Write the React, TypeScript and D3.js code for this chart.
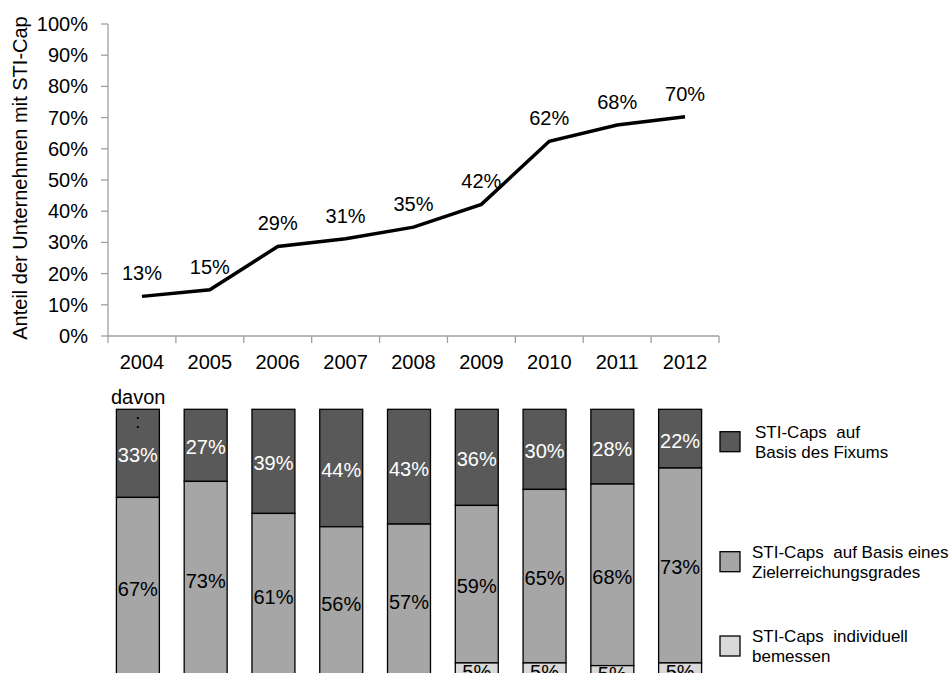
import React from "react";
import * as d3 from "d3";

const years = ["2004", "2005", "2006", "2007", "2008", "2009", "2010", "2011", "2012"];
const lineValues = [12.7, 14.8, 28.7, 31.2, 34.9, 42.2, 62.4, 67.6, 70.3];
const lineLabels = ["13%", "15%", "29%", "31%", "35%", "42%", "62%", "68%", "70%"];
const yTicks = [0, 10, 20, 30, 40, 50, 60, 70, 80, 90, 100];

const fixum = [33, 27, 39, 44, 43, 36, 30, 28, 22];
const ziel = [67, 73, 61, 56, 57, 59, 65, 68, 73];
const indiv = [0, 0, 0, 0, 0, 5, 5, 5, 5];

const seriesNames = [
  ["STI-Caps  auf", "Basis des Fixums"],
  ["STI-Caps  auf Basis eines", "Zielerreichungsgrades"],
  ["STI-Caps  individuell", "bemessen"],
];
const seriesColors = ["#595959", "#a6a6a6", "#d9d9d9"];
const labelColors = ["#ffffff", "#000000", "#000000"];

const FONT = "'Liberation Sans', Arial, sans-serif";

export default function App() {
  const x = d3.scaleBand<string>().domain(years).range([108, 719]).padding(0);
  const y = d3.scaleLinear().domain([0, 100]).range([336, 24]);
  const line = d3
    .line<number>()
    .x((_, i) => (x(years[i]) as number) + x.bandwidth() / 2)
    .y((v) => y(v));

  const xb = d3
    .scaleBand<string>()
    .domain(years)
    .range([104, 714])
    .paddingInner(0.366)
    .paddingOuter(0.183);
  const yb = d3.scaleLinear().domain([0, 100]).range([409.3, 676.3]);

  const stackData = years.map((yr, i) => ({ yr, fixum: fixum[i], ziel: ziel[i], indiv: indiv[i] }));
  const stack = d3.stack<any>().keys(["fixum", "ziel", "indiv"])(stackData);

  const axisColor = "#a0a0a0";

  return (
    <svg
      width={949}
      height={673}
      style={{ position: "absolute", left: 0, top: 0, background: "#fff" }}
      fontFamily={FONT}
    >
      {/* Y axis title */}
      <text
        transform={`translate(27,178) rotate(-90)`}
        textAnchor="middle"
        fontSize={20}
        fill="#000"
      >
        Anteil der Unternehmen mit STI-Cap
      </text>
      {/* Y axis */}
      <line x1={108} x2={108} y1={y(100)} y2={y(0)} stroke={axisColor} strokeWidth={1.3} />
      {yTicks.map((t) => (
        <g key={t}>
          <line x1={101} x2={108} y1={y(t)} y2={y(t)} stroke={axisColor} strokeWidth={1.3} />
          <text x={88} y={y(t)} dy="0.35em" textAnchor="end" fontSize={20}>
            {t}%
          </text>
        </g>
      ))}
      {/* X axis */}
      <line x1={x.range()[0]} x2={x.range()[1]} y1={y(0)} y2={y(0)} stroke={axisColor} strokeWidth={1.3} />
      {years.map((yr) => (
        <line
          key={"t" + yr}
          x1={x(yr) as number}
          x2={x(yr) as number}
          y1={y(0)}
          y2={y(0) + 7}
          stroke={axisColor}
          strokeWidth={1.3}
        />
      ))}
      <line x1={719} x2={719} y1={y(0)} y2={y(0) + 7} stroke={axisColor} strokeWidth={1.3} />
      {years.map((yr) => (
        <text
          key={"l" + yr}
          x={(x(yr) as number) + x.bandwidth() / 2}
          y={362}
          dy="0.35em"
          textAnchor="middle"
          fontSize={20}
        >
          {yr}
        </text>
      ))}
      {/* Line */}
      <path d={line(lineValues) || ""} fill="none" stroke="#000" strokeWidth={3.5} strokeLinejoin="miter" />
      {lineValues.map((v, i) => (
        <text
          key={"v" + i}
          x={(x(years[i]) as number) + x.bandwidth() / 2}
          y={y(v) - 23}
          dy="0.35em"
          textAnchor="middle"
          fontSize={20}
        >
          {lineLabels[i]}
        </text>
      ))}

      {/* Bottom stacked bars */}
      <text x={111} y={397} dy="0.35em" fontSize={20}>
        davon
      </text>
      {stack.map((s, si) =>
        s.map((d, i) => {
          const v = d[1] - d[0];
          if (v <= 0) return null;
          const yr = years[i];
          const top = yb(d[0]);
          const bot = yb(d[1]);
          return (
            <g key={si + "-" + i}>
              <rect
                x={xb(yr) as number}
                y={top}
                width={xb.bandwidth()}
                height={bot - top}
                fill={seriesColors[si]}
                stroke="#000"
                strokeWidth={1.3}
              />
            </g>
          );
        })
      )}
      {stack.map((s, si) =>
        s.map((d, i) => {
          const v = d[1] - d[0];
          if (v <= 0) return null;
          const yr = years[i];
          const top = yb(d[0]);
          const bot = yb(d[1]);
          return (
            <text
              key={"bl" + si + "-" + i}
              x={(xb(yr) as number) + xb.bandwidth() / 2}
              y={(top + bot) / 2 + 2}
              dy="0.35em"
              textAnchor="middle"
              fontSize={20}
              fill={labelColors[si]}
            >
              {Math.round(v)}%
            </text>
          );
        })
      )}
      <text x={(xb(years[0]) as number) + xb.bandwidth() / 2} y={421} dy="0.35em" textAnchor="middle" fontSize={20}>
        :
      </text>

      {/* Legend */}
      {seriesNames.map((lines, si) => {
        const ly = [441.7, 561.7, 646][si];
        return (
          <g key={"lg" + si}>
            <rect x={720} y={ly - 10} width={20} height={20} fill={seriesColors[si]} stroke="#000" strokeWidth={1.3} />
            {lines.map((t, li) => (
              <text
                key={li}
                x={si === 0 ? 755 : 752}
                y={ly - 10 + li * 20.5}
                dy="0.35em"
                fontSize={17}
                style={{ whiteSpace: "pre" }}
              >
                {t}
              </text>
            ))}
          </g>
        );
      })}
    </svg>
  );
}
